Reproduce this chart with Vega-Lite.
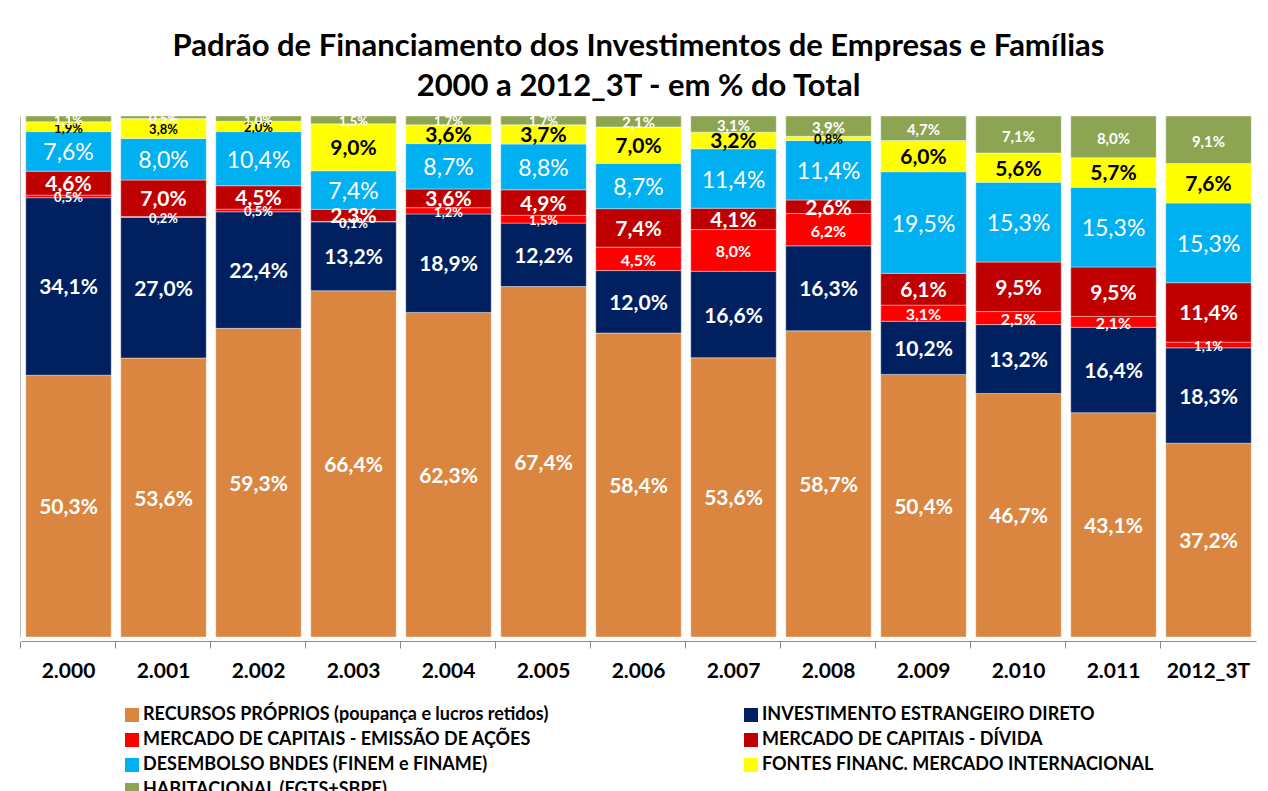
{
  "$schema": "https://vega.github.io/schema/vega-lite/v6.json",
  "width": 1235,
  "height": 521,
  "autosize": {"type": "none"},
  "padding": {"left": 21, "top": 116, "right": 12, "bottom": 154},
  "background": "white",
  "title": {
    "text": ["Padrão de Financiamento dos Investimentos de Empresas e Famílias", "2000 a 2012_3T - em % do Total"],
    "font": "Lato", "fontSize": 31, "fontWeight": "bold", "color": "black",
    "anchor": "middle", "frame": "group", "lineHeight": 40, "offset": 10
  },
  "data": {"values": [
    {"ano": "2.000", "rp": 50.3, "ied": 34.1, "acoes": 0.5, "divida": 4.6, "bndes": 7.6, "fontes": 1.9, "hab": 1.1},
    {"ano": "2.001", "rp": 53.6, "ied": 27.0, "acoes": 0.2, "divida": 7.0, "bndes": 8.0, "fontes": 3.8, "hab": 0.5},
    {"ano": "2.002", "rp": 59.3, "ied": 22.4, "acoes": 0.5, "divida": 4.5, "bndes": 10.4, "fontes": 2.0, "hab": 1.0},
    {"ano": "2.003", "rp": 66.4, "ied": 13.2, "acoes": 0.1, "divida": 2.3, "bndes": 7.4, "fontes": 9.0, "hab": 1.5},
    {"ano": "2.004", "rp": 62.3, "ied": 18.9, "acoes": 1.2, "divida": 3.6, "bndes": 8.7, "fontes": 3.6, "hab": 1.7},
    {"ano": "2.005", "rp": 67.4, "ied": 12.2, "acoes": 1.5, "divida": 4.9, "bndes": 8.8, "fontes": 3.7, "hab": 1.7},
    {"ano": "2.006", "rp": 58.4, "ied": 12.0, "acoes": 4.5, "divida": 7.4, "bndes": 8.7, "fontes": 7.0, "hab": 2.1},
    {"ano": "2.007", "rp": 53.6, "ied": 16.6, "acoes": 8.0, "divida": 4.1, "bndes": 11.4, "fontes": 3.2, "hab": 3.1},
    {"ano": "2.008", "rp": 58.7, "ied": 16.3, "acoes": 6.2, "divida": 2.6, "bndes": 11.4, "fontes": 0.8, "hab": 3.9},
    {"ano": "2.009", "rp": 50.4, "ied": 10.2, "acoes": 3.1, "divida": 6.1, "bndes": 19.5, "fontes": 6.0, "hab": 4.7},
    {"ano": "2.010", "rp": 46.7, "ied": 13.2, "acoes": 2.5, "divida": 9.5, "bndes": 15.3, "fontes": 5.6, "hab": 7.1},
    {"ano": "2.011", "rp": 43.1, "ied": 16.4, "acoes": 2.1, "divida": 9.5, "bndes": 15.3, "fontes": 5.7, "hab": 8.0},
    {"ano": "2012_3T", "rp": 37.2, "ied": 18.3, "acoes": 1.1, "divida": 11.4, "bndes": 15.3, "fontes": 7.6, "hab": 9.1}
  ]},
  "transform": [
    {"fold": ["rp", "ied", "acoes", "divida", "bndes", "fontes", "hab"], "as": ["serie", "v"]},
    {"calculate": "indexof(['rp','ied','acoes','divida','bndes','fontes','hab'], datum.serie)", "as": "ord"},
    {"calculate": "replace(format(datum.v, '.1f'), '.', ',') + '%'", "as": "lab"}
  ],
  "encoding": {
    "x": {
      "field": "ano", "type": "nominal", "sort": null, "title": null,
      "scale": {"paddingInner": 0.1, "paddingOuter": 0.05},
      "axis": {
        "labelAngle": 0, "labelFont": "Lato", "labelFontSize": 21, "labelFontWeight": "bold", "labelColor": "black",
        "labelPadding": 12, "domainColor": "#8c8c8c", "tickColor": "#8c8c8c", "tickSize": 7, "offset": 4,
        "bandPosition": -0.0588
      }
    }
  },
  "layer": [
    {
      "mark": {"type": "bar", "stroke": "white", "strokeWidth": 0.4},
      "encoding": {
        "y": {"field": "v", "type": "quantitative", "stack": "normalize", "title": null,
              "scale": {"domain": [0, 1], "nice": false},
              "axis": {"labels": false, "ticks": false, "grid": false, "domainColor": "#bfbfbf", "offset": 1}},
        "color": {
          "field": "serie", "type": "nominal",
          "scale": {
            "domain": ["rp", "ied", "acoes", "divida", "bndes", "fontes", "hab"],
            "range": ["#DA8640", "#002060", "#FF0000", "#C00000", "#00B0F0", "#FFFF00", "#8DA552"]
          },
          "legend": {
            "title": null, "orient": "none", "legendX": 102, "legendY": 590, "columns": 2,
            "values": ["rp", "acoes", "bndes", "hab", "ied", "divida", "fontes"],
            "symbolType": "square", "symbolSize": 196, "symbolStrokeWidth": 0,
            "labelFont": "Lato", "labelFontSize": 18, "labelFontWeight": "bold", "labelColor": "black",
            "labelLimit": 700, "labelOffset": 2, "columnPadding": 193, "rowPadding": 7, "padding": 0,
            "labelExpr": "{'rp':'RECURSOS PRÓPRIOS (poupança e lucros retidos)','ied':'INVESTIMENTO ESTRANGEIRO DIRETO','acoes':'MERCADO DE CAPITAIS - EMISSÃO DE AÇÕES','divida':'MERCADO DE CAPITAIS - DÍVIDA','bndes':'DESEMBOLSO BNDES (FINEM e FINAME)','fontes':'FONTES FINANC. MERCADO INTERNACIONAL','hab':'HABITACIONAL (FGTS+SBPE)'}[datum.value]"
          }
        },
        "order": {"field": "ord", "type": "quantitative"}
      }
    },
    {
      "mark": {
        "type": "text", "font": "Lato", "align": "center", "baseline": "middle", "dy": 2,
        "fill": {"expr": "datum.serie == 'fontes' ? 'black' : 'white'"},
        "fontSize": {"expr": "(datum.v < 2.05 || (datum.serie == 'fontes' && datum.ano == '2.001')) ? 13 : (datum.serie == 'bndes' ? 23 : (datum.serie == 'hab' ? 15 : (datum.serie == 'acoes' ? 16 : 21)))"},
        "fontWeight": {"expr": "datum.serie == 'bndes' ? 'normal' : 'bold'"}
      },
      "encoding": {
        "y": {"field": "v", "type": "quantitative", "stack": "normalize", "bandPosition": 0.5},
        "detail": {"field": "serie"},
        "order": {"field": "ord", "type": "quantitative"},
        "text": {"field": "lab"}
      }
    }
  ],
  "config": {"view": {"stroke": null}}
}
